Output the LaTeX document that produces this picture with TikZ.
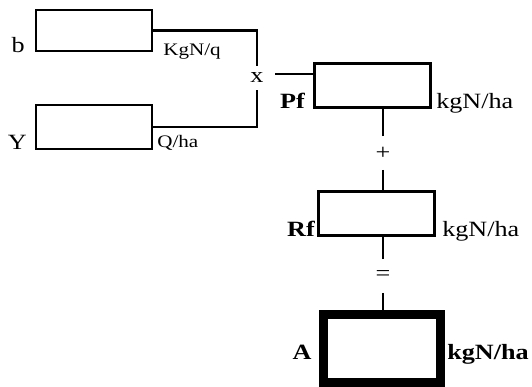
\documentclass[tikz,border=0pt]{standalone}
\usepackage{fontspec}
\setmainfont[FakeStretch=1.2]{Liberation Serif}

\begin{document}
\begin{tikzpicture}[
    box/.style={draw, line width=1.8pt, minimum width=2.9cm, minimum height=1.1cm, inner sep=0pt},
    total/.style={draw, line width=6.4pt, minimum width=2.925cm, minimum height=1.7cm, inner sep=0pt},
    link/.style={line width=1.8pt},
    op/.style={inner sep=0pt, minimum width=0.9cm, font=\fontsize{15.5}{18}\selectfont},
    lbl/.style={inner sep=0pt, font=\fontsize{15.5}{18}\selectfont},
    unitsmall/.style={inner sep=0pt, font=\fontsize{12.5}{15}\selectfont}
]
\useasboundingbox (0,0) rectangle (13.3,9.675);

% Input boxes
\node[box, minimum height=1.03cm] (b) at (2.35,8.91) {};
\node[box] (Y) at (2.35,6.5) {};
\node[lbl, anchor=base east] (bl) at (0.625,8.35) {b};
\node[lbl, anchor=base east] (Yl) at (0.675,5.925) {Y};
\node[unitsmall, anchor=base west] (bu) at (4.075,8.275) {KgN/q};
\node[unitsmall, anchor=base west] (Yu) at (3.925,5.975) {Q/ha};

% Product
\node[op, minimum height=0.575cm] (mult) at (6.425,7.73) {x};
\draw[link] (b) -| (mult);
\draw[link] (Y) -| (mult);

% Pf and Rf
\node[box] (Pf) at (9.3125,7.5375) {};
\node[box] (Rf) at (9.4125,4.3375) {};
\node[lbl, anchor=base east] (Pfl) at (7.625,6.95) {\bfseries Pf};
\node[lbl, anchor=base west] (Pfu) at (10.9,6.95) {kgN/ha};
\node[lbl, anchor=base east] (Rfl) at (7.875,3.75) {\bfseries Rf};
\node[lbl, anchor=base west] (Rfu) at (11.05,3.75) {kgN/ha};
\coordinate (tap) at ([yshift=0.09cm]mult.east);
\draw[link] (tap) -- (tap -| Pf.west);

% Sum
\node[op, minimum height=0.825cm] (plus) at (9.575,5.85) {+};
\draw[link] (plus.north) -- (plus.north |- Pf.south);
\draw[link] (plus.south) -- (plus.south |- Rf.north);

% Result
\node[total] (A) at (9.55,0.9625) {};
\node[lbl, anchor=base] (Al) at (7.55,0.675) {\bfseries A};
\node[lbl, anchor=base west] (Au) at (11.175,0.675) {\bfseries kgN/ha};
\node[op, minimum height=0.825cm] (eq) at (9.575,2.775) {=};
\draw[link] (eq.north) -- (eq.north |- Rf.south);
\draw[link] (eq.south) -- (eq.south |- A.north);

\end{tikzpicture}
\end{document}
